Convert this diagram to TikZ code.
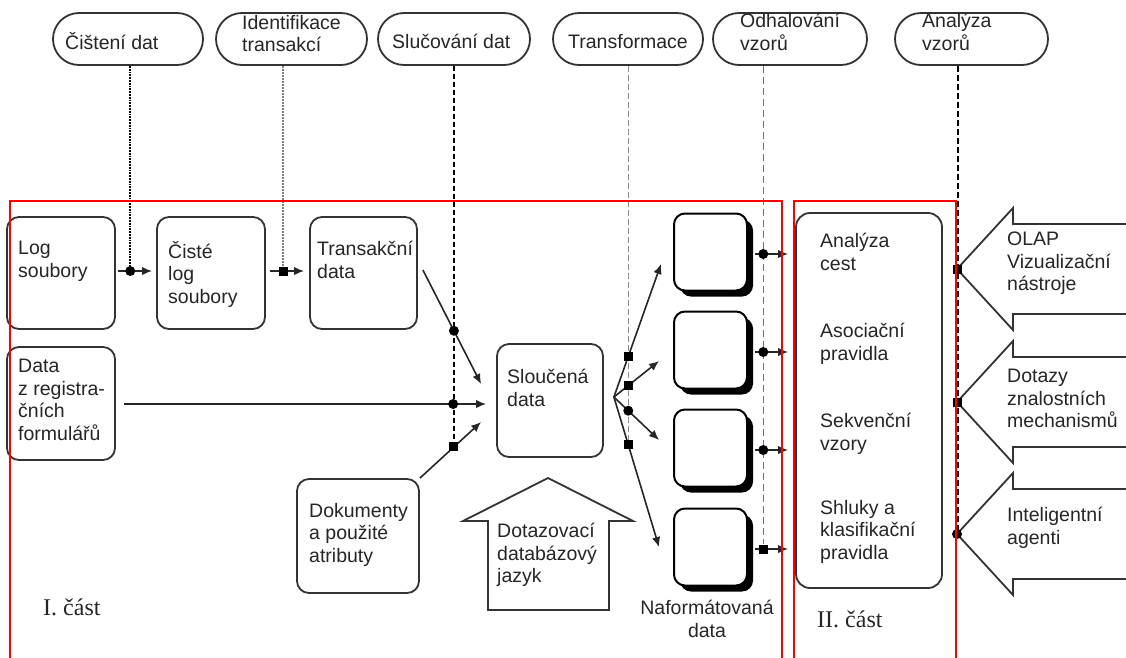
\documentclass[tikz,border=0pt]{standalone}
\usepackage{fontspec}
\setmainfont{Liberation Serif}
\newfontfamily\labelfont{Liberation Sans}
\usetikzlibrary{arrows.meta,calc,shadows}
\pgfdeclarelayer{bg}
\pgfsetlayers{bg,main}

\begin{document}
\begin{tikzpicture}[x=1pt,y=-1pt,
  txt/.style={anchor=north west, inner sep=0pt, align=left, text=black!85,
    font={\labelfont\fontsize{19.5}{22.5}\selectfont},
    execute at begin node={\rule{0pt}{20pt}}},
  ctxt/.style={txt, anchor=north, align=center},
  part/.style={anchor=base west, inner sep=0pt, text=black!85,
    font={\fontsize{24}{28}\selectfont}},
  box/.style={draw=black!80, line width=1.8pt, rounded corners=12pt,
    fill=white, inner sep=0pt},
  pill/.style={draw=black!80, line width=1.8pt, rounded corners=26pt,
    minimum height=52pt, inner sep=0pt, fill=white},
  fbox/.style={draw=black, line width=2pt, rounded corners=11pt, fill=white,
    minimum width=73pt, minimum height=77pt, inner sep=0pt,
    drop shadow={shadow xshift=6pt, shadow yshift=-6pt, fill=black, opacity=1}},
  conn/.style={black!85, line width=1.6pt, -{Latex[length=10pt,width=8.5pt]}},
  sqm/.style={rectangle, fill=black, inner sep=0pt, minimum size=9pt},
  dotm/.style={circle, fill=black, inner sep=0pt, minimum size=10pt},
  frame/.style={red, line width=1.4pt},
  blk/.style={draw=black!80, line width=1.8pt, fill=white, line join=miter},
  v1/.style={black, line width=1.8pt, densely dotted},
  v2/.style={black!50, line width=2pt, densely dotted},
  v3/.style={black, line width=1.6pt, dash pattern=on 5pt off 3pt},
  v4/.style={black!45, line width=1.5pt, dash pattern=on 6pt off 3pt},
  v5/.style={black!55, line width=1.5pt, dash pattern=on 7pt off 4pt},
  v6/.style={black, line width=1.6pt, dash pattern=on 6pt off 3pt},
]
\useasboundingbox (0,0) rectangle (1126,657);

% processing steps along the top
\node[pill, minimum width=150pt] (o1) at (128,39) {};
\node[pill, minimum width=151pt] (o2) at (291.5,39) {};
\node[pill, minimum width=152pt] (o3) at (454,39) {};
\node[pill, minimum width=150pt] (o4) at (628,39) {};
\node[pill, minimum width=154pt] (o5) at (790,39) {};
\node[pill, minimum width=153pt] (o6) at (971.5,39) {};
\node[txt] (o1t) at (65,29) {Čištení dat};
\node[txt] (o2t) at (242,15) {Identifikace\\transakcí};
\node[txt] (o3t) at (392,28) {Slučování dat};
\node[txt] (o4t) at (568,28) {Transformace};
\node[txt] (o5t) at (740,13) {Odhalování\\vzorů};
\node[txt] (o6t) at (922,13) {Analýza\\vzorů};

% data stores of part I
\node[box, minimum width=108pt, minimum height=112pt] (log) at (61,273) {};
\node[box, minimum width=108pt, minimum height=112pt] (clean) at (211,273) {};
\node[box, minimum width=107pt, minimum height=112pt] (trans) at (363.5,273) {};
\node[box, minimum width=108pt, minimum height=113pt] (reg) at (61,403.5) {};
\node[box, minimum width=106pt, minimum height=113pt] (merged) at (550,400.5) {};
\node[box, minimum width=122pt, minimum height=114pt] (docs) at (358,536) {};
\node[txt] (logt) at (18,241) {Log\\soubory};
\node[txt] (cleant) at (168,241) {Čisté\\log\\soubory};
\node[txt] (transt) at (317,241) {Transakční\\data};
\node[txt] (regt) at (18,359) {Data\\z registra-\\čních\\formulářů};
\node[txt] (mergedt) at (507,369) {Sloučená\\data};
\node[txt] (docst) at (309,503) {Dokumenty\\a použité\\atributy};

% query language arrow
\coordinate (qa) at (548,478);
\draw[blk] (qa) -- ++(85,43) -- ++(-24,0) -- ++(0,89) -- ++(-121,0)
  -- ++(0,-89) -- ++(-25,0) -- cycle;
\node[txt] (qat) at (497,523) {Dotazovací\\databázový\\jazyk};

% formatted data
\node[fbox] (f1) at (710.5,252) {};
\node[fbox] (f2) at (710.5,350) {};
\node[fbox] (f3) at (710.5,448) {};
\node[fbox] (f4) at (710.5,547) {};
\node[ctxt] (ft) at (707,600) {Naformátovaná\\data};

% part II
\node[box, rounded corners=14pt, minimum width=146pt, minimum height=375pt] (rules) at (869,400.5) {};
\node[txt] (r1) at (820,233) {Analýza\\cest};
\node[txt] (r2) at (820,323) {Asociační\\pravidla};
\node[txt] (r3) at (820,413) {Sekvenční\\vzory};
\node[txt] (r4) at (820,500) {Shluky a\\klasifikační\\pravidla};

% consumers of the patterns
\coordinate (t1) at (957,269);
\coordinate (t2) at (957,402);
\coordinate (t3) at (957,534);
\foreach \t in {t1,t2,t3}{
  \draw[blk] (\t) -- ++(56,-61) -- ++(0,16) -- ++(120,0) -- ++(0,90)
    -- ++(-120,0) -- ++(0,16) -- cycle;
}
\node[sqm] (m1) at (t1) {};
\node[sqm] (m2) at (t2) {};
\node[dotm] (m3) at (t3) {};
\node[txt] (c1) at (1007,232) {OLAP\\Vizualizační\\nástroje};
\node[txt] (c2) at (1007,369) {Dotazy\\znalostních\\mechanismů};
\node[txt] (c3) at (1007,507) {Inteligentní\\agenti};

% data flow
\draw[conn] ($(log.east)+(2,-2)$) -- node[pos=.361, dotm] (j1) {} ($(clean.west)+(-4,-2)$);
\draw[conn] ($(clean.east)+(4,-2)$) -- node[pos=.389, sqm] (j2) {} ($(trans.west)+(-5,-2)$);
\draw[conn] ($(trans.east)+(5,-3)$) -- node[pos=.533, dotm] (j3) {} ($(merged.west)+(-15,-16.5)$);
\draw[conn] ($(reg.east)+(8,0.5)$) -- node[pos=.909, dotm] (j4) {} ($(merged.west)+(-10,3.5)$);
\draw[conn] (docs.north east) -- node[pos=.556, sqm] (j5) {} ($(merged.west)+(-15,21.5)$);

\coordinate (fan) at ($(merged.east)+(10,-3.5)$);
\draw[conn] (fan) -- node[pos=.306, sqm] (j6) {} ($(f1.west)+(-12,12)$);
\draw[conn] (fan) -- node[pos=.319, sqm] (j7) {} ($(f2.west)+(-14,11)$);
\draw[conn] (fan) -- node[pos=.319, dotm] (j8) {} ($(f3.west)+(-14,-8)$);
\draw[conn] (fan) -- node[pos=.319, sqm] (j9) {} ($(f4.west)+(-14,0)$);

\foreach \i/\m in {1/dotm,2/dotm,3/dotm,4/sqm}{
  \draw[conn] ($(f\i.east)+(7,2)$) -- node[pos=.25, \m] (k\i) {}
    ($(f\i.east -| rules.west)+(-7,2)$);
}

% steps acting on the flow
\begin{pgfonlayer}{bg}
\draw[v1] (o1.south -| j1) -- (j1);
\draw[v2] (o2.south -| j2) -- (j2);
\draw[v3] (o3.south -| j5) -- (j5);
\draw[v4] (o4.south -| j9) -- (j9);
\draw[v5] (o5.south -| k4) -- (k4);
\draw[v6] ($(o6.south -| m3)+(1,0)$) -- ($(m3)+(1,0)$);
\end{pgfonlayer}

% the two parts
\draw[frame] (10,660) |- (782,201) -- (782,660);
\draw[frame] (794,660) |- (956,201) -- (956,660);
\node[part] (p1) at (43,615) {I. část};
\node[part] (p2) at (817,627) {II. část};
\end{tikzpicture}
\end{document}
